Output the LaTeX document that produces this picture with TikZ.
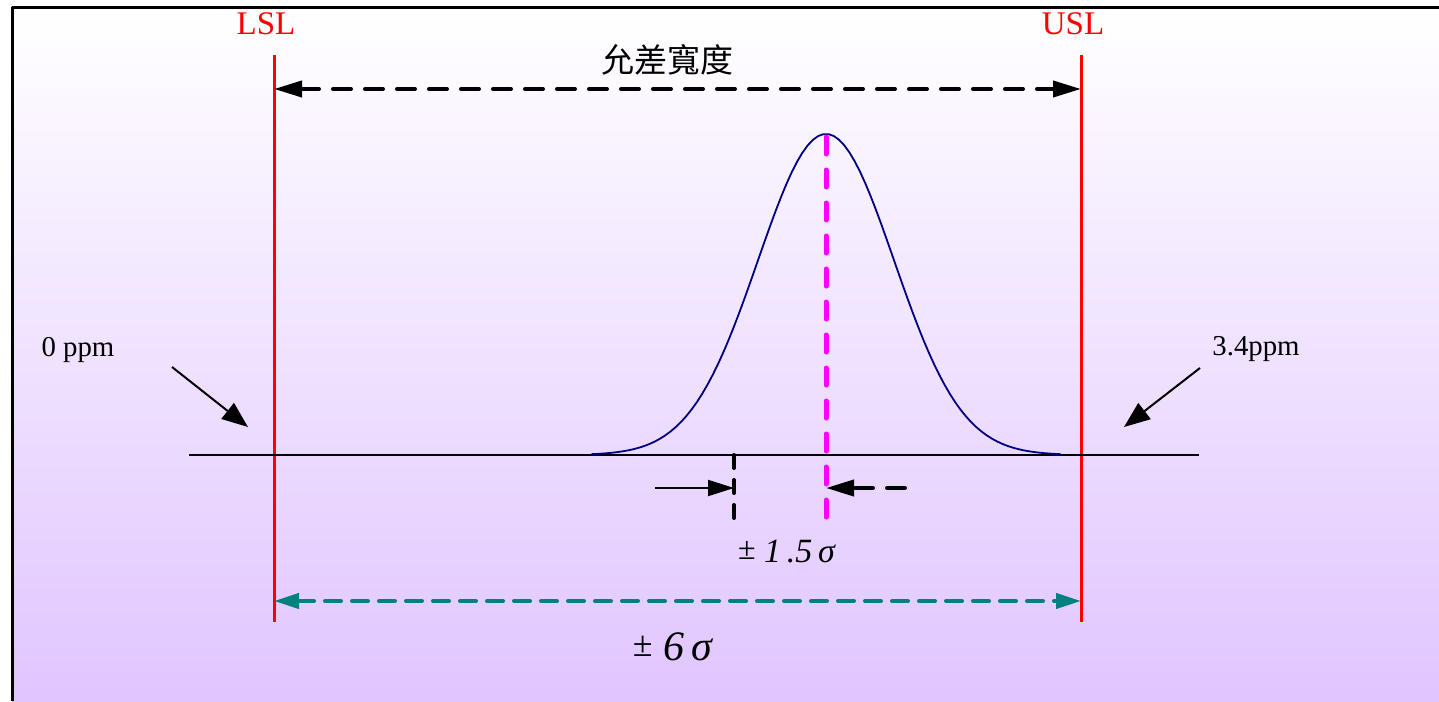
\documentclass[tikz,border=0pt]{standalone}
\usepackage{fontspec}
\setmainfont{Liberation Serif}
\newfontfamily\cjk{Noto Sans CJK TC}
\usetikzlibrary{arrows.meta}
\definecolor{lavbottom}{RGB}{224,197,255}
\definecolor{limitred} {RGB}{255,  0,  0}
\definecolor{meanpink} {RGB}{255,  0,255}
\definecolor{spanteal} {RGB}{  0,128,128}
\definecolor{curvenavy}{RGB}{  0,  0,128}
\tikzset{
  %% Spec limits
  limitline/.style={draw=limitred, line width=1.5pt},
  limitlabel/.style={text=limitred, font=\fontsize{16.5}{20}\selectfont},
  %% Dashed measuring arrows
  widtharrow/.style={
    draw=black, line width=2pt, line cap=round,
    dash pattern=on 9pt off 7pt,
    {Triangle[length=14pt,width=8pt]}-{Triangle[length=14pt,width=8pt]}
  },
  spanarrow/.style={
    draw=spanteal, line width=2pt, line cap=round,
    dash pattern=on 8pt off 5.5pt,
    {Triangle[length=12.5pt,width=7.5pt]}-{Triangle[length=12.5pt,width=7.5pt]}
  },
  shiftarrow/.style={
    draw=black, line width=2pt, line cap=round,
    dash pattern=on 9pt off 7pt,
    -{Triangle[length=14pt,width=8pt]}
  },
  thinarrow/.style={
    draw=black, line width=1pt,
    -{Triangle[length=13pt,width=8pt]}
  },
  pointer/.style={
    draw=black, line width=1pt,
    -{Triangle[length=13pt,width=10pt]}
  },
  meanline/.style={
    draw=meanpink, line width=2.5pt, line cap=round,
    dash pattern=on 8.5pt off 8pt
  },
  shiftline/.style={
    draw=black, line width=2pt, line cap=round,
    dash pattern=on 6.5pt off 6pt
  },
  baseline/.style={draw=black, line width=0.8pt},
  curve/.style={draw=curvenavy, line width=0.9pt},
  ppmlabel/.style={font=\fontsize{14.4}{17}\selectfont},
  sigmalabel/.style={font=\fontsize{17}{20}\selectfont},
}

\begin{document}
\begin{tikzpicture}[x=0.5pt, y=-0.5pt, line join=round]

  %% ── Layout constants (pixel grid) ─────────────────────────────────────
  \def\LX{274}    % lower spec limit
  \def\UX{1081}   % upper spec limit
  \def\MX{826}    % process mean
  \def\BY{455}    % baseline
  \def\SG{68}     % sigma
  \def\PK{321}    % peak height

  \useasboundingbox (0,0) rectangle (1439,701);

  %% Background and frame
  \shade[top color=white, bottom color=lavbottom] (12,8) rectangle (1439,701);
  \draw[black, line width=1.5pt] (12,701) -- (12,8) -- (1439,8);

  %% ══════════════════════════════════════════════════════════════════════
  %%  SPEC LIMITS
  %% ══════════════════════════════════════════════════════════════════════
  \node[limitlabel] (lsl) at (266,24) {LSL};
  \node[limitlabel] (usl) at (1073,24) {USL};
  \coordinate (lsltop) at (\LX,55);
  \coordinate (lslbot) at (\LX,622);
  \coordinate (usltop) at (\UX,55);
  \coordinate (uslbot) at (\UX,622);
  \draw[limitline] (lsltop) -- (lslbot);
  \draw[limitline] (usltop) -- (uslbot);

  %% Tolerance width
  \node[font=\fontsize{16.5}{20}\selectfont\cjk] (tol) at (667,60) {允差寬度};
  \coordinate (tolL) at (\LX,89);
  \coordinate (tolR) at (\UX,89);
  \draw[widtharrow] (tolL) -- (tolR);

  %% ── Baseline and distribution ───────────────────────────────────────
  \coordinate (baseL) at (189,\BY);
  \coordinate (baseR) at (1199,\BY);
  \draw[baseline] (baseL) -- (baseR);
  \draw[curve] plot[domain=-3.45:3.45, samples=90]
        ({\MX+\SG*\x}, {\BY-\PK*exp(-\x*\x/2)});

  %% Mean and shifted centre
  \coordinate (meantop) at (\MX,137);
  \coordinate (meanbot) at (\MX,520);
  \draw[meanline] (meantop) -- (meanbot);
  \coordinate (shifttop) at (734,\BY);
  \coordinate (shiftbot) at (734,520);
  \draw[shiftline] (shifttop) -- (shiftbot);

  \coordinate (shiftin)  at (734,488);
  \coordinate (shiftfar) at (655,488);
  \coordinate (meanin)   at (\MX,488);
  \coordinate (meanfar)  at (905,488);
  \draw[thinarrow]  (shiftfar) -- (shiftin);
  \draw[shiftarrow] (meanfar) -- (meanin);
  \node[sigmalabel] (shiftsig) at (787,552)
        {\raisebox{1.5pt}{\fontsize{16}{18}\selectfont ±}\ \textit{1\,.5}\,\textit{σ}};

  %% ── Six-sigma span ───────────────────────────────────────────────────
  \coordinate (spanL) at (\LX,601);
  \coordinate (spanR) at (\UX,601);
  \draw[spanarrow] (spanL) -- (spanR);
  \node[font=\fontsize{21}{24}\selectfont] (sixsig) at (673,647)
        {\raisebox{2pt}{\fontsize{18}{20}\selectfont ±}\ \textit{6}\,\textit{σ}};

  %% ── Defect rates ─────────────────────────────────────────────────────
  \node[ppmlabel] (zeroppm) at (78,350) {0 ppm};
  \coordinate (zerofrom) at (172,367);
  \coordinate (zeroto)   at (248,427);
  \draw[pointer] (zerofrom) -- (zeroto);

  \node[ppmlabel] (highppm) at (1256,349) {3.4ppm};
  \coordinate (highfrom) at (1200,368);
  \coordinate (highto)   at (1124,427);
  \draw[pointer] (highfrom) -- (highto);

\end{tikzpicture}
\end{document}
